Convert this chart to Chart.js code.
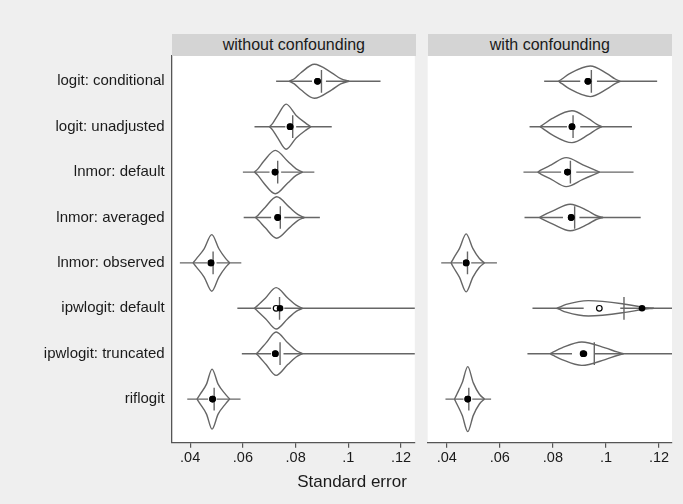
<!DOCTYPE html>
<html>
<head>
<meta charset="utf-8">
<script src="https://cdn.jsdelivr.net/npm/chart.js@4"></script>
<style>
  body { margin: 0; background: #efefef; font-family: "Liberation Sans", Arial, sans-serif; }
  #wrap { position: relative; width: 683px; height: 504px; background: #efefef; }
  canvas { position: absolute; top: 0; }
  .head { position: absolute; top: 34px; height: 22px; line-height: 22px; background: #d4d4d4;
          text-align: center; font-size: 16px; color: #1a1a1a; }
  #xtitle { position: absolute; top: 472px; left: 252px; width: 200px; text-align: center;
            font-size: 17px; color: #1a1a1a; }
</style>
</head>
<body>
<div id="wrap">
  <canvas id="left" width="420" height="504" style="left:0"></canvas>
  <canvas id="right" width="263" height="504" style="left:420px"></canvas>
  <div class="head" id="head0" style="left:171.7px;width:244.3px"></div>
  <div class="head" id="head1" style="left:427.7px;width:244.3px"></div>
  <div id="xtitle">Standard error</div>
</div>
<script>
const rowLabels = ["logit: conditional", "logit: unadjusted", "lnmor: default", "lnmor: averaged",
                   "lnmor: observed", "ipwlogit: default", "ipwlogit: truncated", "riflogit"];
const panelTitles = ["without confounding", "with confounding"];
const xTicks = [0.04, 0.06, 0.08, 0.1, 0.12];
const xTickLabels = [".04", ".06", ".08", ".1", ".12"];
// density level at each outline point (tail, shoulder, half, mode, half, shoulder, tail)
const shapeLevels = [0, 0.15, 0.5, 1, 0.5, 0.15, 0];

// without confounding
const woLow    = [0.0726, 0.0644, 0.0600, 0.0603, 0.0361, 0.0579, 0.0596, 0.0389];
const woQ1     = [0.0862, 0.0761, 0.0701, 0.0707, 0.0464, 0.0707, 0.0707, 0.0468];
const woQ3     = [0.0915, 0.0802, 0.0745, 0.0757, 0.0500, 0.0757, 0.0754, 0.0500];
const woHigh   = [0.1122, 0.0937, 0.0871, 0.0892, 0.0594, 0.15, 0.15, 0.0591];
const woMedian = [0.0883, 0.0779, 0.0722, 0.0732, 0.0479, 0.0726, 0.0723, 0.0485];
const woMean   = [0.0883, 0.0779, 0.0722, 0.0732, 0.0479, 0.0741, 0.0723, 0.0485];
const woTrue   = [0.0898, 0.0789, 0.0732, 0.0742, 0.0487, 0.0739, 0.0741, 0.0491];
const woPeak   = [0.374, 0.496, 0.478, 0.456, 0.623, 0.456, 0.478, 0.661];
const woOutline = [
  [0.0776, 0.0795, 0.0820, 0.0871, 0.0937, 0.0971, 0.1003],
  [0.0701, 0.0713, 0.0732, 0.0764, 0.0802, 0.0839, 0.0858],
  [0.0644, 0.0657, 0.0679, 0.0723, 0.0770, 0.0802, 0.0826],
  [0.0648, 0.0660, 0.0685, 0.0728, 0.0776, 0.0808, 0.0833],
  [0.0411, 0.0424, 0.0453, 0.0482, 0.0509, 0.0535, 0.0550],
  [0.0644, 0.0657, 0.0686, 0.0726, 0.0770, 0.0802, 0.0826],
  [0.0651, 0.0663, 0.0688, 0.0726, 0.0770, 0.0802, 0.0826],
  [0.0426, 0.0437, 0.0462, 0.0483, 0.0506, 0.0535, 0.0550]
];

// with confounding
const wcLow    = [0.0767, 0.0712, 0.0689, 0.0693, 0.0379, 0.0723, 0.0704, 0.0395];
const wcQ1     = [0.0903, 0.0853, 0.0831, 0.0838, 0.0458, 0.0916, 0.0872, 0.0463];
const wcQ3     = [0.0966, 0.0903, 0.0888, 0.0900, 0.0492, 0.1054, 0.0956, 0.0496];
const wcHigh   = [0.1193, 0.1098, 0.1104, 0.1131, 0.0589, 0.15, 0.15, 0.0567];
const wcMedian = [0.0932, 0.0872, 0.0855, 0.0869, 0.0473, 0.0975, 0.0914, 0.0479];
const wcMean   = [0.0932, 0.0872, 0.0855, 0.0869, 0.0473, 0.1136, 0.0917, 0.0479];
const wcTrue   = [0.0945, 0.0876, 0.0866, 0.0882, 0.0478, 0.1068, 0.0956, 0.0483];
const wcPeak   = [0.337, 0.352, 0.319, 0.293, 0.639, 0.170, 0.258, 0.716];
const wcOutline = [
  [0.0821, 0.0834, 0.0863, 0.0941, 0.1004, 0.1035, 0.1054],
  [0.0752, 0.0765, 0.0796, 0.0872, 0.0934, 0.0966, 0.0985],
  [0.0743, 0.0756, 0.0794, 0.0850, 0.0913, 0.0957, 0.0976],
  [0.0749, 0.0762, 0.0800, 0.0865, 0.0932, 0.0963, 0.0989],
  [0.0416, 0.0425, 0.0448, 0.0473, 0.0498, 0.0523, 0.0542],
  [0.0815, 0.0825, 0.0850, 0.0934, 0.1079, 0.1136, 0.1180],
  [0.0790, 0.0802, 0.0834, 0.0909, 0.0997, 0.1042, 0.1066],
  [0.0429, 0.0438, 0.0458, 0.0479, 0.0500, 0.0523, 0.0542]
];

const GRAY = "#666666";
const AXIS = "#555555";
const FONT = "'Liberation Sans', Arial, sans-serif";

document.getElementById("head0").textContent = panelTitles[0];
document.getElementById("head1").textContent = panelTitles[1];

function lineSet(points, smooth) {
  return {
    data: points,
    borderColor: GRAY,
    borderWidth: 1.4,
    pointRadius: 0,
    fill: false,
    cubicInterpolationMode: smooth ? "monotone" : "default",
    tension: 0,
    order: 3
  };
}

function buildDatasets(low, q1, q3, high, median, mean, truth, peak, outline) {
  let sets = [];
  let openPts = [];
  let filledPts = [];
  rowLabels.forEach(function (label, r) {
    let upper = outline[r].map((x, k) => ({ x: x, y: r - shapeLevels[k] * peak[r] }));
    let lower = outline[r].map((x, k) => ({ x: x, y: r + shapeLevels[k] * peak[r] }));
    sets.push(lineSet(upper, true));
    sets.push(lineSet(lower, true));
    // whiskers, box left open
    sets.push(lineSet([{ x: low[r], y: r }, { x: q1[r], y: r }], false));
    sets.push(lineSet([{ x: q3[r], y: r }, { x: high[r], y: r }], false));
    // reference line
    sets.push(lineSet([{ x: truth[r], y: r - 0.25 }, { x: truth[r], y: r + 0.25 }], false));
    openPts.push({ x: median[r], y: r });
    filledPts.push({ x: mean[r], y: r });
  });
  sets.push({
    data: openPts, showLine: false, pointRadius: 2.8, pointBorderWidth: 1.2,
    pointBackgroundColor: "#ffffff", pointBorderColor: "#000000", order: 1
  });
  sets.push({
    data: filledPts, showLine: false, pointRadius: 3.3, pointBorderWidth: 0,
    pointBackgroundColor: "#000000", pointBorderColor: "#000000", order: 0
  });
  return sets;
}

const whiteArea = {
  id: "whiteArea",
  beforeDraw(chart) {
    const a = chart.chartArea;
    const ctx = chart.ctx;
    ctx.save();
    ctx.fillStyle = "#ffffff";
    ctx.fillRect(a.left, a.top, a.right - a.left, a.bottom - a.top);
    ctx.restore();
  }
};

function makeChart(id, datasets, showY, xmin, xmax, padding) {
  return new Chart(document.getElementById(id), {
    type: "line",
    data: { datasets: datasets },
    options: {
      responsive: false,
      animation: false,
      events: [],
      layout: { padding: padding },
      plugins: { legend: { display: false }, tooltip: { enabled: false } },
      scales: {
        x: {
          type: "linear",
          min: xmin,
          max: xmax,
          afterBuildTicks: s => { s.ticks = xTicks.map(v => ({ value: v })); },
          afterFit: s => { s.height = 61.3; },
          grid: { drawOnChartArea: false, drawTicks: true, tickLength: 5, color: AXIS, lineWidth: 1.2 },
          border: { display: true, color: AXIS, width: 1.3 },
          ticks: {
            padding: 2,
            color: "#1a1a1a",
            font: { family: FONT, size: 14.5 },
            maxRotation: 0,
            callback: (v, i) => xTickLabels[i]
          }
        },
        y: {
          type: "linear",
          display: showY,
          reverse: true,
          min: -0.557,
          max: 7.96,
          afterBuildTicks: s => { s.ticks = rowLabels.map((l, i) => ({ value: i })); },
          afterFit: s => { s.width = showY ? 171.7 : 0; },
          grid: { display: false, drawTicks: false },
          border: { display: true, color: AXIS, width: 1.3 },
          ticks: {
            padding: 7,
            color: "#1a1a1a",
            font: { family: FONT, size: 15 },
            callback: (v, i) => rowLabels[i]
          }
        }
      }
    },
    plugins: [whiteArea]
  });
}

makeChart("left",
  buildDatasets(woLow, woQ1, woQ3, woHigh, woMedian, woMean, woTrue, woPeak, woOutline),
  true, 0.033, 0.1252, { top: 56, right: 4, left: 0, bottom: 0 });

makeChart("right",
  buildDatasets(wcLow, wcQ1, wcQ3, wcHigh, wcMedian, wcMean, wcTrue, wcPeak, wcOutline),
  false, 0.0328, 0.1249, { top: 56, right: 11, left: 7.7, bottom: 0 });
</script>
</body>
</html>
